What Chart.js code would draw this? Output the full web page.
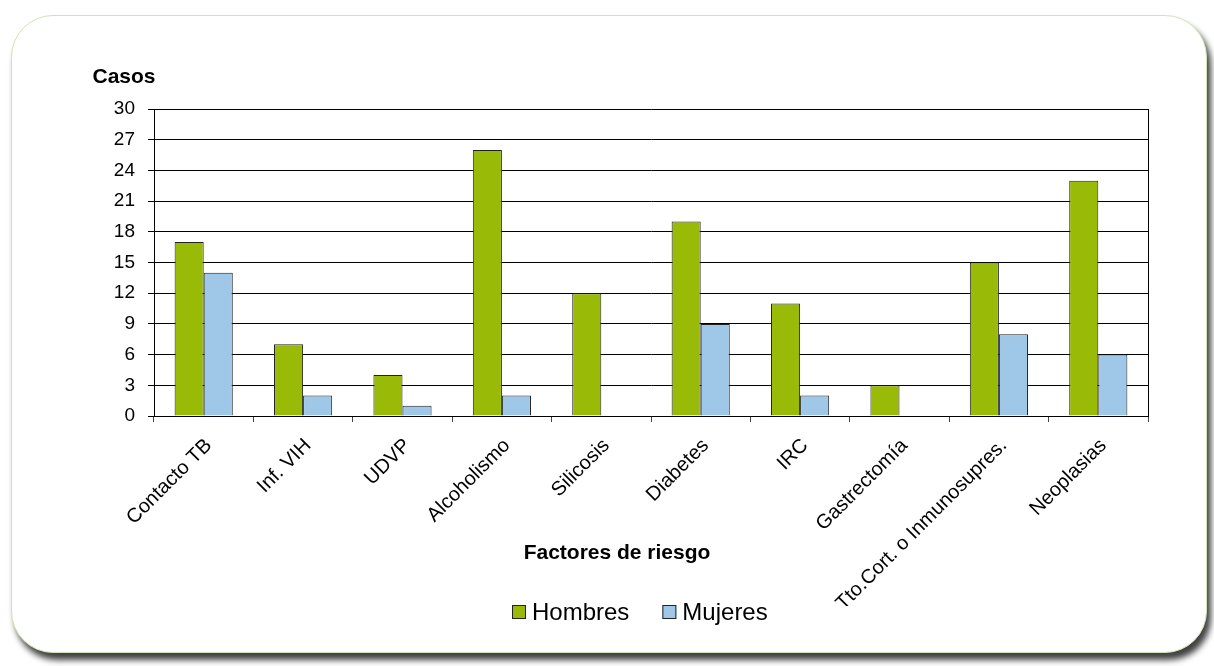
<!DOCTYPE html>
<html>
<head>
<meta charset="utf-8">
<script src="https://cdn.jsdelivr.net/npm/chart.js@4/dist/chart.umd.min.js"></script>
<style>
  html, body { margin: 0; padding: 0; background: #fff; overflow: hidden; }
  body { width: 1214px; height: 666px; position: relative; }
  .frame {
    position: absolute; left: 11px; top: 15px; width: 1194px; height: 636px;
    border: 1px solid #cfe4b6; border-radius: 42px; background: #fff;
    box-shadow: 4px 7px 6px rgba(0, 0, 0, 0.75);
  }
  #wrap { position: absolute; left: 0; top: 0; width: 1214px; height: 666px; }
</style>
</head>
<body>
<div class="frame"></div>
<div id="wrap"><canvas id="chart" width="1214" height="666"></canvas></div>
<script>
const categories = ['Contacto TB', 'Inf. VIH', 'UDVP', 'Alcoholismo', 'Silicosis', 'Diabetes', 'IRC', 'Gastrectomía', 'Tto.Cort. o Inmunosupres.', 'Neoplasias'];
const hombres = [17, 7, 4, 26, 12, 19, 11, 3, 15, 23];
const mujeres = [14, 2, 1, 2, 0, 9, 2, 0, 8, 6];
const yTitle = 'Casos';
const xTitle = 'Factores de riesgo';

const FONT = 'Arial, "Liberation Sans", sans-serif';

// axis titles sit in fixed spots, outside the scale boxes
const axisTitles = {
  id: 'axisTitles',
  afterDraw(chart) {
    const { ctx, chartArea } = chart;
    ctx.save();
    ctx.fillStyle = '#000';
    ctx.font = 'bold 21px ' + FONT;
    ctx.textAlign = 'center';
    ctx.textBaseline = 'middle';
    ctx.fillText(yTitle, chartArea.left - 30, chartArea.top - 32);
    ctx.fillText(xTitle, 617, 553);
    ctx.restore();
  }
};

// legend row: small framed squares with the series names next to them
const legendRow = {
  id: 'legendRow',
  afterDraw(chart) {
    const { ctx } = chart;
    const sets = chart.data.datasets;
    const box = 14, gap = 6, between = 33, y = 612;
    ctx.save();
    ctx.font = '24px ' + FONT;
    ctx.textBaseline = 'middle';
    const widths = sets.map(ds => ctx.measureText(ds.label).width);
    let total = widths.reduce((a, w) => a + box + gap + w, 0) + between * (sets.length - 1);
    let x = Math.round(640 - total / 2);
    sets.forEach((ds, i) => {
      ctx.fillStyle = ds.backgroundColor;
      ctx.fillRect(x, y - 7, box, box);
      ctx.strokeStyle = '#222';
      ctx.lineWidth = 1;
      ctx.strokeRect(x + 0.5, y - 6.5, box - 1, box - 1);
      ctx.fillStyle = '#000';
      ctx.fillText(ds.label, x + box + gap, y + 1);
      x += box + gap + widths[i] + between;
    });
    ctx.restore();
  }
};

// right edge of the plot box
const rightEdge = {
  id: 'rightEdge',
  afterDatasetsDraw(chart) {
    const { ctx, chartArea } = chart;
    ctx.save();
    ctx.strokeStyle = '#000';
    ctx.lineWidth = 1;
    ctx.beginPath();
    ctx.moveTo(Math.round(chartArea.right) + 0.5, chartArea.top);
    ctx.lineTo(Math.round(chartArea.right) + 0.5, chartArea.bottom);
    ctx.stroke();
    ctx.restore();
  }
};

Chart.defaults.font.family = FONT;
Chart.defaults.color = '#000';

new Chart(document.getElementById('chart'), {
  type: 'bar',
  data: {
    labels: categories,
    datasets: [
      { label: 'Hombres', data: hombres, backgroundColor: '#99bb08', borderColor: '#222', borderWidth: 1, borderSkipped: 'bottom' },
      { label: 'Mujeres', data: mujeres, backgroundColor: '#9fc8e8', borderColor: '#222', borderWidth: 1, borderSkipped: 'bottom' }
    ]
  },
  options: {
    responsive: false,
    animation: false,
    layout: { padding: { top: 109, left: 0, right: 66, bottom: 60 } },
    datasets: { bar: { categoryPercentage: 0.585, barPercentage: 1 } },
    scales: {
      x: {
        border: { color: '#000', width: 1 },
        grid: { display: true, drawOnChartArea: false, color: '#444', tickLength: 6, offset: true },
        ticks: { font: { size: 20 }, maxRotation: 45, minRotation: 45, padding: 12, labelOffset: 5, autoSkip: false },
        afterFit(scale) { scale.height = 190; scale.paddingLeft = 0; scale.paddingRight = 0; }
      },
      y: {
        min: 0, max: 30,
        border: { color: '#000', width: 1 },
        grid: { color: '#000', lineWidth: 1, tickLength: 6 },
        ticks: { stepSize: 3, font: { size: 19 }, padding: 13 },
        afterFit(scale) { scale.width = 154; scale.paddingTop = 0; scale.paddingBottom = 0; }
      }
    },
    plugins: {
      legend: { display: false },
      tooltip: { enabled: false }
    }
  },
  plugins: [axisTitles, legendRow, rightEdge]
});
</script>
</body>
</html>
